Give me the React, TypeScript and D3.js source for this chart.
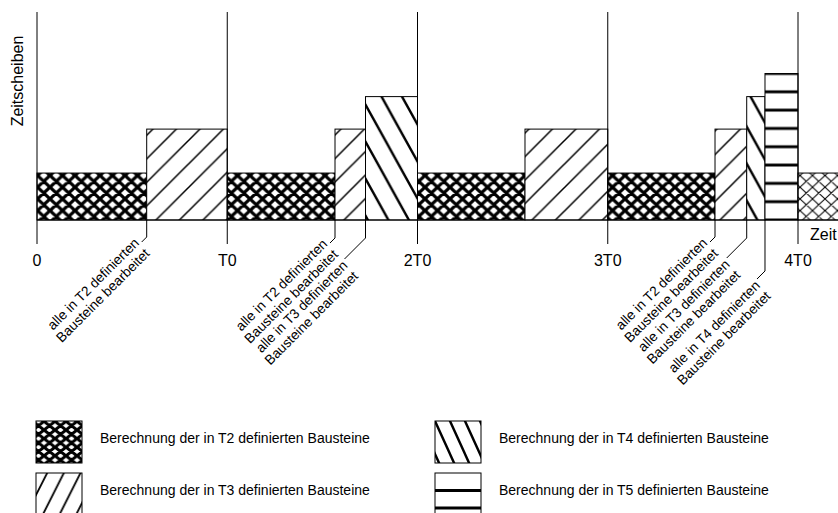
import React from "react";
import * as d3 from "d3";

const WIDTH = 838;
const HEIGHT = 513;
const FONT = "'Liberation Sans', Arial, Helvetica, sans-serif";

// ---- data ----
const periodTicks = [0, 1, 2, 3, 4];
const periodLabels = ["0", "T0", "2T0", "3T0", "4T0"];

const taskNames = ["T2", "T3", "T4", "T5"];
const taskSlices = [1, 1.936, 2.628, 3.12];

const blockTask = ["T2", "T3", "T2", "T3", "T4", "T2", "T3", "T2", "T3", "T4", "T5", "T2"];
const blockStart = [0, 0.5766, 1, 1.5664, 1.7267, 2, 2.565, 3, 3.5638, 3.7304, 3.8265, 4];
const blockEnd = [0.5766, 1, 1.5664, 1.7267, 2, 2.565, 3, 3.5638, 3.7304, 3.8265, 4, 4.4];
const blockNext = [false, false, false, false, false, false, false, false, false, false, false, true];

const doneTime = [0.5766, 1.5664, 1.7267, 3.5638, 3.7304, 3.8265];
const doneTask = ["T2", "T2", "T3", "T2", "T3", "T4"];

const legendLabels = taskNames.map((t) => `Berechnung der in ${t} definierten Bausteine`);

// ---- layout (not data) ----
const leaderDrop = [17, 18, 18, 17, 18, 51];
const leaderRun = [5, 5, 21, 5, 20, 8];
const labelShift = [0, 0, 8, 0, 8, 8];

function hatch(w: number, h: number, dir: 1 | -1): string {
  let d = "";
  for (let k = -1; k <= 1; k++) {
    if (dir === 1) d += `M${k * w - w},${-h}L${k * w + 2 * w},${2 * h}`;
    else d += `M${k * w + 2 * w},${-h}L${k * w - w},${2 * h}`;
  }
  return d;
}

export default function App() {
  const x = d3.scaleLinear().domain([0, 4]).range([37, 798]);
  const y = d3.scaleLinear().domain([0, 4.43]).range([220, 12]);
  const base = y(0);
  const heightOf = (t: string) => taskSlices[taskNames.indexOf(t)];
  const t5Step = (base - y(heightOf("T5"))) / 8;

  const fillFor = (t: string, next: boolean) => {
    if (t === "T2") return next ? "url(#pT2light)" : "url(#pT2)";
    return `url(#p${t})`;
  };

  const legendPos = [
    { x: 36, y: 421 },
    { x: 36, y: 473 },
    { x: 435, y: 421 },
    { x: 435, y: 473 },
  ];
  const legendFill = ["url(#lT2)", "url(#lT3)", "url(#lT4)", "white"];

  return (
    <svg
      width={WIDTH}
      height={HEIGHT}
      viewBox={`0 0 ${WIDTH} ${HEIGHT}`}
      style={{ position: "absolute", left: 0, top: 0, display: "block", background: "white" }}
      fontFamily={FONT}
    >
      <defs>
        <pattern id="pT2" patternUnits="userSpaceOnUse" width={12.5} height={11.7}>
          <rect width={12.5} height={11.7} fill="white" />
          <path d={hatch(12.5, 11.7, 1) + hatch(12.5, 11.7, -1)} stroke="black" strokeWidth={3.2} fill="none" />
        </pattern>
        <pattern id="pT2light" patternUnits="userSpaceOnUse" width={12.5} height={11.7}>
          <rect width={12.5} height={11.7} fill="white" />
          <path d={hatch(12.5, 11.7, 1) + hatch(12.5, 11.7, -1)} stroke="black" strokeWidth={1} fill="none" />
        </pattern>
        <pattern id="pT3" patternUnits="userSpaceOnUse" width={23.5} height={23.5}>
          <rect width={23.5} height={23.5} fill="white" />
          <path d={hatch(23.5, 23.5, -1)} stroke="black" strokeWidth={1.5} fill="none" />
        </pattern>
        <pattern id="pT4" patternUnits="userSpaceOnUse" width={20.5} height={37}>
          <rect width={20.5} height={37} fill="white" />
          <path d={hatch(20.5, 37, 1)} stroke="black" strokeWidth={2.4} fill="none" />
        </pattern>
        <pattern id="pT5" patternUnits="userSpaceOnUse" y={base} width={20} height={t5Step}>
          <rect width={20} height={t5Step} fill="white" />
          <path d={`M-1,0H21M-1,${t5Step}H21`} stroke="black" strokeWidth={3} fill="none" />
        </pattern>
        <pattern id="lT2" patternUnits="userSpaceOnUse" width={11} height={8.6}>
          <rect width={11} height={8.6} fill="white" />
          <path d={hatch(11, 8.6, 1) + hatch(11, 8.6, -1)} stroke="black" strokeWidth={3} fill="none" />
        </pattern>
        <pattern id="lT3" patternUnits="userSpaceOnUse" x={36} width={16.7} height={33}>
          <rect width={16.7} height={33} fill="white" />
          <path d={hatch(16.7, 33, -1)} stroke="black" strokeWidth={1.8} fill="none" />
        </pattern>
        <pattern id="lT4" patternUnits="userSpaceOnUse" x={435} y={421} width={15} height={33}>
          <rect width={15} height={33} fill="white" />
          <path d={hatch(15, 33, 1)} stroke="black" strokeWidth={2.4} fill="none" />
        </pattern>
      </defs>

      {/* blocks */}
      {blockTask.map((t, i) => (
        <rect
          key={`b${i}`}
          x={x(blockStart[i])}
          y={y(heightOf(t))}
          width={x(blockEnd[i]) - x(blockStart[i])}
          height={base - y(heightOf(t))}
          fill={fillFor(t, blockNext[i])}
          stroke="black"
          strokeWidth={1}
        />
      ))}

      {/* period lines */}
      {periodTicks.map((p) => (
        <line key={`p${p}`} x1={x(p)} x2={x(p)} y1={y(4.43)} y2={base + 24} stroke="black" strokeWidth={1} />
      ))}
      <line x1={x(0)} x2={WIDTH + 10} y1={base} y2={base} stroke="black" strokeWidth={1} />

      {/* tick labels */}
      {periodTicks.map((p, i) => (
        <text key={`t${p}`} x={x(p)} y={266} textAnchor="middle" fontSize={16} fill="black">
          {periodLabels[i]}
        </text>
      ))}
      <text x={810} y={240} fontSize={16} fill="black">Zeit</text>
      <text transform={`translate(22.5,81) rotate(-90)`} textAnchor="middle" fontSize={16} fill="black">
        Zeitscheiben
      </text>

      {/* completion annotations */}
      {doneTime.map((t, i) => {
        const xt = x(t);
        const yd = base + leaderDrop[i];
        const lx = xt - leaderRun[i];
        const ly = yd + leaderRun[i];
        const v = labelShift[i];
        return (
          <g key={`a${i}`}>
            <polyline points={`${xt},${base} ${xt},${yd} ${lx},${ly}`} fill="none" stroke="black" strokeWidth={1} />
            <text transform={`translate(${lx},${ly}) rotate(-45)`} textAnchor="end" fontSize={13.7} fill="black">
              <tspan x={-2.5} y={v}>{`alle in ${doneTask[i]} definierten`}</tspan>
              <tspan x={-2.5} y={v + 15}>Bausteine bearbeitet</tspan>
            </text>
          </g>
        );
      })}

      {/* legend */}
      {taskNames.map((t, i) => {
        const p = legendPos[i];
        return (
          <g key={`l${t}`}>
            <rect x={p.x} y={p.y} width={46} height={42} fill={legendFill[i]} stroke="black" strokeWidth={1} />
            {t === "T5" && (
              <path d={`M${p.x},${p.y + 17.5}h46M${p.x},${p.y + 35}h46`} stroke="black" strokeWidth={3} />
            )}
            <text x={p.x + 64} y={p.y + 22} fontSize={14} fill="black">
              {legendLabels[i]}
            </text>
          </g>
        );
      })}
    </svg>
  );
}
